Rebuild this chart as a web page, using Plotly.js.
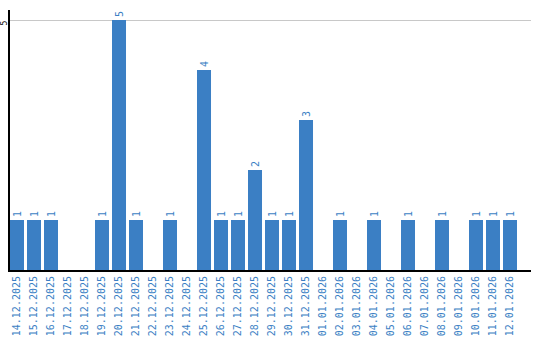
<!DOCTYPE html>
<html><head><meta charset="utf-8">
<script src="https://cdn.plot.ly/plotly-3.0.1.min.js"></script>
<style>body{margin:0;padding:0;background:#fff}#chart{width:540px;height:340px}</style>
</head><body><div id="chart"></div>
<script>
const dates = ["14.12.2025","15.12.2025","16.12.2025","17.12.2025","18.12.2025","19.12.2025","20.12.2025","21.12.2025","22.12.2025","23.12.2025","24.12.2025","25.12.2025","26.12.2025","27.12.2025","28.12.2025","29.12.2025","30.12.2025","31.12.2025","01.01.2026","02.01.2026","03.01.2026","04.01.2026","05.01.2026","06.01.2026","07.01.2026","08.01.2026","09.01.2026","10.01.2026","11.01.2026","12.01.2026"];
const counts = [1,1,1,0,0,1,5,1,0,1,0,4,1,1,2,1,1,3,0,1,0,1,0,1,0,1,0,1,1,1];
const yTicks = [5];
const blue = "#3b7fc4";
const font = "DejaVu Sans Mono";
const labels = counts.map(v => v > 0 ? String(v) : "");
Plotly.newPlot("chart", [{
  type: "bar", x: dates, y: counts, text: labels,
  textposition: "outside", textangle: -90, constraintext: "none", cliponaxis: false,
  textfont: {family: font, size: 10, color: blue},
  marker: {color: blue}, hoverinfo: "none"
}], {
  width: 540, height: 340,
  margin: {l: 10, r: 9, t: 10, b: 70, pad: 0},
  paper_bgcolor: "#fff", plot_bgcolor: "#fff",
  bargap: 0.176, showlegend: false,
  xaxis: {type: "category", range: [-0.412, 30.235], tickangle: -90, ticks: "",
    tickfont: {family: font, size: 10, color: blue}, showline: true, linecolor: "#000", linewidth: 2,
    showgrid: false, fixedrange: true},
  yaxis: {range: [0, 5.2], tickvals: yTicks, showticklabels: false, ticks: "",
    showline: true, linecolor: "#000", linewidth: 2,
    showgrid: true, gridcolor: "#c8c8c8", gridwidth: 1, zeroline: false, fixedrange: true},
  annotations: yTicks.map(v => ({
    xref: "paper", yref: "y", x: 0, y: v, text: String(v), showarrow: false,
    textangle: -90, xanchor: "center", yanchor: "middle", xshift: -6.5, yshift: -3,
    font: {family: font, size: 8, color: "#000"}
  }))
}, {staticPlot: true, displayModeBar: false});
</script></body></html>
